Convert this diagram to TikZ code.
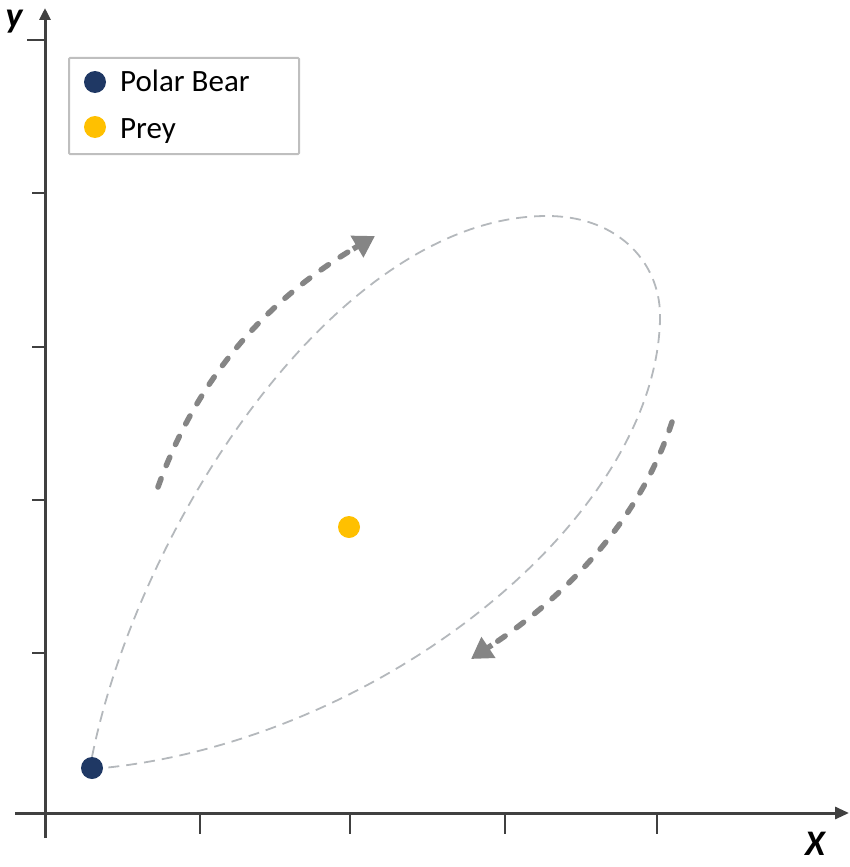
\documentclass[tikz,border=0pt]{standalone}
\usepackage{fontspec}
\setmainfont{Carlito}
\usetikzlibrary{arrows.meta}
\definecolor{navy}{HTML}{1F3864}
\definecolor{gold}{HTML}{FFC000}
\definecolor{axisgray}{HTML}{404040}
\definecolor{loopgray}{HTML}{B4B8BC}
\definecolor{arrgray}{HTML}{858585}
\definecolor{boxgray}{HTML}{BFBFBF}
\tikzset{
  axisline/.style={line width=3pt, draw=axisgray},
  tickline/.style={line width=2.2pt, draw=axisgray},
  dot/.style={circle, inner sep=0pt, minimum size=22pt},
  loopline/.style={draw=loopgray, line width=1.8pt, dash pattern=on 11pt off 7pt},
  flowshaft/.style={draw=arrgray, line width=5.5pt, line cap=round, dash pattern=on 9pt off 14pt},
  flowtip/.style={draw=arrgray, line width=5.5pt, -{Triangle[length=21pt,width=24pt]}},
  legtext/.style={anchor=base west, font=\fontsize{31}{34}\selectfont, text=black, inner sep=0pt},
  axlabel/.style={font=\fontsize{36}{40}\selectfont\bfseries\itshape, inner sep=0pt}
}
\begin{document}
\begin{tikzpicture}[x=1pt,y=-1pt]
\useasboundingbox (0,0) rectangle (850,867);
% axes
\draw[axisline, -{Triangle[length=12pt,width=11pt]}] (45,838) -- (45,8);
\draw[axisline, -{Triangle[length=14pt,width=12pt]}] (15,813) -- (849,813);
% y ticks
\foreach \yy in {193,347,500,653} \draw[tickline] (32,\yy) -- (45,\yy);
\draw[tickline] (27,40) -- (45,40);
% x ticks
\foreach \xx in {200,350,505,657} \draw[tickline] (\xx,813) -- (\xx,834);
% axis labels
\node[axlabel] (ylab) at (14,22) {y};
\node[axlabel] (xlab) at (815,844) {X};
% legend
\node[draw=boxgray, line width=2pt, rounded corners=1pt, minimum width=230pt, minimum height=96pt, anchor=north west, inner sep=0pt] (legend) at (68,57) {};
\node[dot, fill=navy] (lbear) at (95,82) {};
\node[dot, fill=gold] (lprey) at (95,127) {};
\node[legtext] (tbear) at (120,92) {Polar Bear};
\node[legtext] (tprey) at (120,138) {Prey};
% points
\node[dot, fill=navy] (bear) at (92,768) {};
\node[dot, fill=gold] (prey) at (349,527) {};
\coordinate (top) at (547,216);
\coordinate (right) at (660,320);
% loop
\draw[loopline] (bear.north) .. controls (140,520) and (340,216) .. (top)
  .. controls (620,216) and (662,265) .. (right)
  .. controls (655,520) and (380,740) .. (bear.east);
% direction arrows
\coordinate (a1s) at (158,487);
\coordinate (a1t) at (353,249);
\coordinate (a1e) at (375,236);
\coordinate (a2s) at (672,422);
\coordinate (a2t) at (492,645);
\coordinate (a2e) at (471,659);
\draw[flowshaft] (a1s) .. controls (200,370) and (273,297) .. (a1t);
\draw[flowtip] (a1t) -- (a1e);
\draw[flowshaft] (a2s) .. controls (640,520) and (567,595) .. (a2t);
\draw[flowtip] (a2t) -- (a2e);
\end{tikzpicture}
\end{document}
